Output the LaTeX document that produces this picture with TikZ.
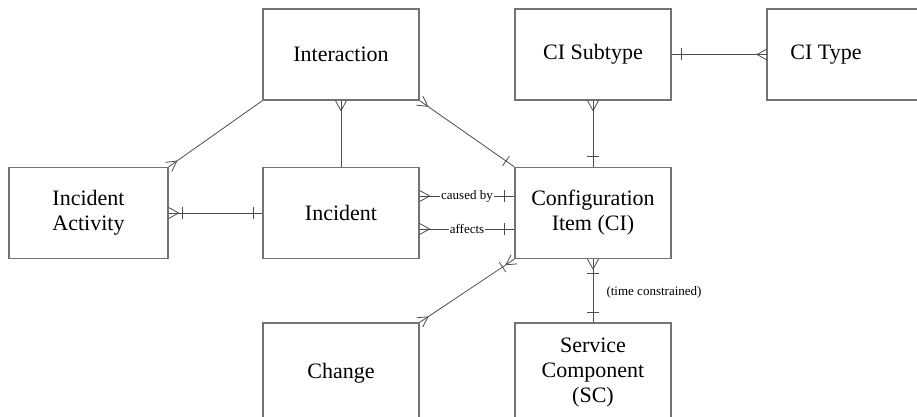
\documentclass[tikz,border=0pt]{standalone}
\usepackage{fontspec}
\setmainfont{Liberation Serif}
\usetikzlibrary{decorations.markings}

\begin{document}
\begin{tikzpicture}[x=1pt,y=-1pt,
  entity/.style={draw=black!55, line width=1.3pt, minimum width=156pt,
    minimum height=91pt, align=center, inner sep=2pt,
    font=\fontsize{22}{25}\selectfont},
  title/.style={align=center, font=\fontsize{22}{25}\selectfont},
  conn/.style={draw=black!70, line width=0.8pt},
  tag/.style={fill=white, inner sep=1pt, font=\fontsize{13}{15}\selectfont},
  % crow's foot at the start / end of a connector
  many start/.style={postaction={decorate,decoration={markings,
    mark=at position 10pt with {\draw[conn] (0pt,0pt)--(-10pt,5.5pt) (0pt,0pt)--(-10pt,-5.5pt);}}}},
  many end/.style={postaction={decorate,decoration={markings,
    mark=at position -10pt with {\draw[conn] (0pt,0pt)--(10pt,5.5pt) (0pt,0pt)--(10pt,-5.5pt);}}}},
  % single cross bar at a given distance along the connector
  bar at/.style={postaction={decorate,decoration={markings,
    mark=at position #1 with {\draw[conn] (0pt,-6pt)--(0pt,6pt);}}}}
]
\useasboundingbox (0,0) rectangle (917,417);
\clip (0,0) rectangle (917,417);

% entities
\node[entity] (inter)  at (341,54.5)  {Interaction};
\node[entity] (sub)    at (593,54.5)  {CI Subtype};
\draw[draw=black!55, line width=1.3pt] (767,9) rectangle (940,100);
\node[title]  (ctype)  at (826,54.5)  {CI Type};
\coordinate   (ctypeW) at (767,54.5);
\node[entity, minimum width=159pt] (act) at (88.5,213) {Incident\\Activity};
\node[entity] (inc)    at (341,213)   {Incident};
\node[entity] (ci)     at (593,213)   {Configuration\\Item (CI)};
\node[entity, minimum height=100pt] (change) at (341,373) {Change};
\node[entity, minimum height=100pt] (sc)     at (593,373) {Service\\Component\\(SC)};

% relationships
\draw[conn, many start] (inter.south) -- (inc.north);
\draw[conn, many start, bar at=-10pt] (inter.south east) -- (ci.north west);
\draw[conn, many start] (act.north east) -- (inter.south west);
\draw[conn, many start, bar at=14pt, bar at=-9pt] (act.east) -- (inc.west);
\draw[conn, many start, bar at=-10pt] ([yshift=17pt]inc.east) -- node[tag] (cb) {caused by} ([yshift=17pt]ci.west);
\draw[conn, many start, bar at=-10pt] ([yshift=-16pt]inc.east) -- node[tag] (af) {affects} ([yshift=-16pt]ci.west);
\draw[conn, many start, many end, bar at=-14pt] (change.north east) -- (ci.south west);
\draw[conn, many start, bar at=-10pt] (sub.south) -- (ci.north);
\draw[conn, bar at=10pt, many end] (sub.east) -- (ctypeW);
\draw[conn, many start, bar at=14pt, bar at=-10pt] (ci.south) -- (sc.north);
\node[anchor=west, font=\fontsize{13}{15}\selectfont] (tc) at (603,292) {(time constrained)};
\end{tikzpicture}
\end{document}
